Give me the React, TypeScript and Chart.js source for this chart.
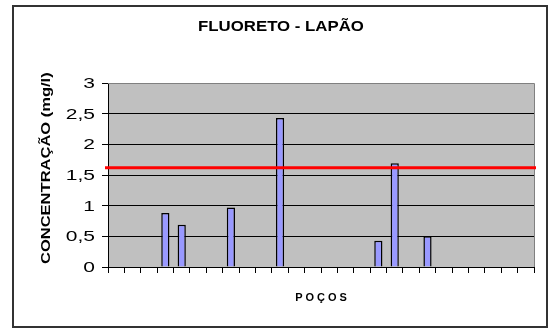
import React, { useEffect, useRef } from "react";
import { Chart, registerables } from "chart.js";

Chart.register(...registerables);

const categories = [
  "1", "2", "3", "4", "5", "6", "7", "8", "9", "10", "11", "12", "13",
  "14", "15", "16", "17", "18", "19", "20", "21", "22", "23", "24", "25", "26",
];
const fluoride: (number | null)[] = [
  null, null, null, 0.88, 0.69, null, null, 0.97, null, null, 2.43, null, null,
  null, null, null, 0.43, 1.69, null, 0.5, null, null, null, null, null, null,
];
const limitValue = 1.62;
const yMin = 0;
const yMax = 3;
const yStep = 0.5;
const titleText = "FLUORETO - LAPÃO";
const yTitleText = "CONCENTRAÇÃO (mg/l)";
const xTitleText = "POÇOS";

const FAMILY = '"Liberation Sans", Arial, Helvetica, sans-serif';

function drawText(
  ctx: CanvasRenderingContext2D,
  text: string,
  x: number,
  y: number,
  font: string,
  align: CanvasTextAlign,
  sx: number,
  rot = 0
) {
  ctx.save();
  ctx.translate(x, y);
  if (rot) ctx.rotate(rot);
  ctx.scale(sx, 1);
  ctx.font = font;
  ctx.fillStyle = "#000";
  ctx.textAlign = align;
  ctx.textBaseline = "middle";
  ctx.fillText(text, 0, 0);
  ctx.restore();
}

const decorPlugin = {
  id: "decor",
  beforeDraw(chart: any) {
    const { ctx, chartArea } = chart;
    ctx.save();
    ctx.fillStyle = "#fff";
    ctx.fillRect(0, 0, chart.width, chart.height);
    ctx.fillStyle = "#C0C0C0";
    ctx.fillRect(
      chartArea.left,
      chartArea.top,
      chartArea.right - chartArea.left,
      chartArea.bottom - chartArea.top
    );
    ctx.restore();
  },
  beforeDatasetsDraw(chart: any) {
    const { ctx, chartArea } = chart;
    ctx.save();
    ctx.strokeStyle = "#808080";
    ctx.lineWidth = 1;
    ctx.beginPath();
    ctx.moveTo(chartArea.left, Math.round(chartArea.top) + 0.5);
    ctx.lineTo(Math.round(chartArea.right) + 0.5, Math.round(chartArea.top) + 0.5);
    ctx.lineTo(Math.round(chartArea.right) + 0.5, chartArea.bottom);
    ctx.stroke();
    ctx.restore();
  },
  afterDraw(chart: any) {
    const { ctx, chartArea } = chart;
    const yScale = chart.scales.y;
    // limit line
    const ly = yScale.getPixelForValue(limitValue);
    ctx.save();
    ctx.strokeStyle = "#FF0000";
    ctx.lineWidth = 3;
    ctx.beginPath();
    ctx.moveTo(chartArea.left - 3, ly);
    ctx.lineTo(chartArea.right + 2, ly);
    ctx.stroke();
    ctx.restore();

    // y tick labels
    yScale.ticks.forEach((t: any) => {
      const py = yScale.getPixelForValue(t.value);
      const label = String(t.value).replace(".", ",");
      drawText(ctx, label, chartArea.left - 13, py + 1, `15px ${FAMILY}`, "right", 1.4);
    });

    // title
    drawText(ctx, titleText, 281, 27, `bold 15px ${FAMILY}`, "center", 1.12);

    // y title
    drawText(
      ctx,
      yTitleText,
      46,
      264,
      `bold 13px ${FAMILY}`,
      "left",
      1.27,
      -Math.PI / 2
    );

    // x title with letter spacing
    ctx.save();
    ctx.font = `bold 11px ${FAMILY}`;
    (ctx as any).letterSpacing = "3px";
    ctx.fillStyle = "#000";
    ctx.textAlign = "center";
    ctx.textBaseline = "middle";
    ctx.fillText(xTitleText, (chartArea.left + chartArea.right) / 2 + 1.5, 298);
    ctx.restore();

    // outer frame
    ctx.save();
    ctx.strokeStyle = "#333";
    ctx.lineWidth = 2;
    ctx.strokeRect(13, 6, 534, 321);
    ctx.restore();
  },
};

export default function App() {
  const canvasRef = useRef<HTMLCanvasElement | null>(null);

  useEffect(() => {
    if (!canvasRef.current) return;
    const chart = new Chart(canvasRef.current, {
      type: "bar",
      data: {
        labels: categories,
        datasets: [
          {
            label: "Fluoreto",
            data: fluoride,
            backgroundColor: "#9999FF",
            borderColor: "#000000",
            borderWidth: 1.5,
            barPercentage: 0.5,
            categoryPercentage: 1,
          },
        ],
      },
      plugins: [decorPlugin],
      options: {
        responsive: false,
        animation: false,
        devicePixelRatio: 1,
        layout: { padding: { left: 100, right: 14, top: 83, bottom: 54 } },
        plugins: {
          legend: { display: false },
          title: { display: false },
          tooltip: { enabled: false },
        },
        scales: {
          x: {
            offset: true,
            afterFit: (s: any) => {
              s.height = 8;
            },
            grid: {
              offset: true,
              drawOnChartArea: false,
              drawTicks: true,
              tickLength: 6,
              color: "#000",
              lineWidth: 1,
            },
            border: { display: true, color: "#000", width: 1 },
            ticks: { display: false },
          },
          y: {
            min: yMin,
            max: yMax,
            afterFit: (s: any) => {
              s.width = 8;
            },
            ticks: { display: false, stepSize: yStep },
            grid: {
              color: "#000",
              lineWidth: 1,
              drawTicks: true,
              tickLength: 6,
            },
            border: { display: true, color: "#000", width: 1 },
          },
        },
      },
    });
    return () => chart.destroy();
  }, []);

  return (
    <div style={{ position: "absolute", left: 0, top: 0, width: 548, height: 329 }}>
      <canvas ref={canvasRef} width={548} height={329} />
    </div>
  );
}
